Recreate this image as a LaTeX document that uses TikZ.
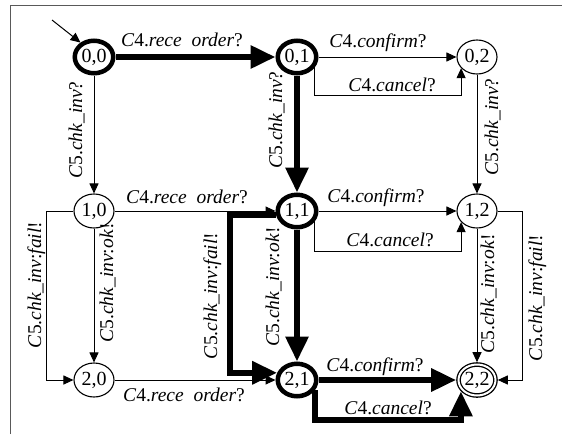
\documentclass[tikz,border=0pt]{standalone}
\usepackage{fontspec}
\setmainfont{Liberation Serif}
\usetikzlibrary{arrows.meta,shapes.geometric}

% event label: channel, action, suffix
\newcommand{\evlabel}[3]{\textit{C}#1.\textit{#2}#3}

\begin{document}
\begin{tikzpicture}[x=1pt,y=-1pt,
  labelfont/.style={font=\fontsize{19.5}{22}\selectfont},
  state/.style={ellipse, draw, fill=white, line width=1.1pt,
    minimum width=40pt, minimum height=34pt, inner sep=0pt,
    font=\fontsize{20}{22}\selectfont},
  hot/.style={state, line width=4.5pt, minimum width=38.5pt, minimum height=32.5pt},
  final/.style={state, double, double distance=2pt, line width=1.3pt,
    minimum width=37pt, minimum height=31pt, outer sep=2.3pt},
  move/.style={line width=1pt, -{Triangle[length=10pt,width=9pt]}},
  runpath/.style={line width=6pt, -{Triangle[length=25pt,width=22pt]}},
  lbl/.style={inner sep=0pt, anchor=base, labelfont},
  vlbl/.style={lbl, rotate=90},
]
\useasboundingbox (0,0) rectangle (562,434);

% frame
\draw[line width=1.6pt, black!65] (10.5,434) -- (10.5,5.5) -- (562,5.5);

% states
\node[hot]   (s00) at (94,57)   {0,0};
\node[hot]   (s01) at (297,57)  {0,1};
\node[state] (s02) at (477,57)  {0,2};
\node[state] (s10) at (94,211)  {1,0};
\node[hot]   (s11) at (297,211) {1,1};
\node[state] (s12) at (477,211) {1,2};
\node[state] (s20) at (94,380)  {2,0};
\node[hot]   (s21) at (297,380) {2,1};
\node[final] (s22) at (477,380) {2,2};

% initial arrow
\coordinate (init) at (52,20);
\draw[move] (init) -- (s00.133);

% row 0
\draw[runpath] (s00) -- (s01);
\draw[move] (s01) -- (s02);
\draw[move] (s01.-30) -- ++(0,28) -| (s02.215);

% row 0 -> row 1
\draw[move] (s00) -- (s10);
\draw[runpath] (s01) -- (s11);
\draw[move] (s02) -- (s12);

% row 1
\draw[move] (s10) -- (s11);
\draw[move] (s11) -- (s12);
\draw[move] (s11.-30) -- ++(0,30) -| (s12.215);

% row 1 -> row 2
\draw[move] (s10.west) -- ++(-27,0) |- (s20.west);
\draw[move] (s10) -- (s20);
\draw[runpath] (s11.190) -- ++(-46,0) |- (s21.160);
\draw[runpath] (s11) -- (s21);
\draw[move] (s12) -- (s22);
\draw[move] (s12.east) -- ++(25,0) |- (s22.east);

% row 2
\draw[move] (s20) -- (s21);
\draw[runpath] (s21) -- (s22);
\draw[runpath] (s21.-30) -- ++(0,30) -| (s22.215);

% horizontal labels
\node[lbl] (l00) at (182,46)  {\evlabel{4}{rece\ \ order}{?}};
\node[lbl] (l01) at (378,47)  {\evlabel{4}{confirm}{?}};
\node[lbl] (l02) at (392,91)  {\evlabel{4}{cancel}{?}};
\node[lbl] (l10) at (187,203) {\evlabel{4}{rece\ \ order}{?}};
\node[lbl] (l11) at (376,202) {\evlabel{4}{confirm}{?}};
\node[lbl] (l12) at (390,246) {\evlabel{4}{cancel}{?}};
\node[lbl] (l20) at (184,401) {\evlabel{4}{rece\ \ order}{?}};
\node[lbl] (l21) at (375,371) {\evlabel{4}{confirm}{?}};
\node[lbl] (l22) at (388,414) {\evlabel{4}{cancel}{?}};

% vertical labels
\node[vlbl] (v00) at (82,130)  {\evlabel{5}{chk\_inv}{?}};
\node[vlbl] (v01) at (282,120) {\evlabel{5}{chk\_inv}{?}};
\node[vlbl] (v02) at (498,127) {\evlabel{5}{chk\_inv}{?}};
\node[vlbl] (v10) at (41,285)  {\evlabel{5}{chk\_inv}{:\textit{fail}!}};
\node[vlbl] (v11) at (113,283) {\evlabel{5}{chk\_inv}{:\textit{ok}!}};
\node[vlbl] (v12) at (217,296) {\evlabel{5}{chk\_inv}{:\textit{fail}!}};
\node[vlbl] (v13) at (279,287) {\evlabel{5}{chk\_inv}{:\textit{ok}!}};
\node[vlbl] (v14) at (494,294) {\evlabel{5}{chk\_inv}{:\textit{ok}!}};
\node[vlbl] (v15) at (542,298) {\evlabel{5}{chk\_inv}{:\textit{fail}!}};
\end{tikzpicture}
\end{document}
